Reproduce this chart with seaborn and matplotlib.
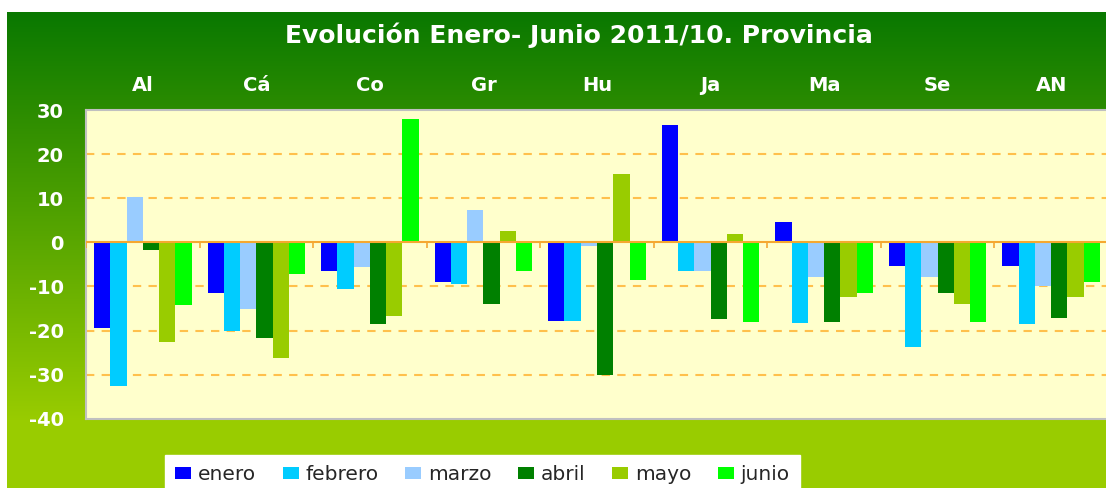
import numpy as np
import pandas as pd
import matplotlib
matplotlib.use("Agg")
import matplotlib.pyplot as plt
import seaborn as sns
from matplotlib.colors import to_rgb

# ---- data ----
provincias = ["Al", "Cá", "Co", "Gr", "Hu", "Ja", "Ma", "Se", "AN"]
meses = ["enero", "febrero", "marzo", "abril", "mayo", "junio"]
enero   = [-19.5, -11.6,  -6.6,  -8.9, -17.9, 26.6,   4.6,  -5.3,  -5.3]
febrero = [-32.5, -20.2, -10.7,  -9.4, -17.9, -6.4, -18.2, -23.8, -18.6]
marzo   = [ 10.3, -15.2,  -5.7,   7.3,  -0.8, -6.4,  -7.8,  -7.8, -10.0]
abril   = [ -1.7, -21.6, -18.6, -14.1, -30.0, -17.3, -18.0, -11.6, -17.1]
mayo    = [-22.5, -26.3, -16.6,   2.5,  15.6,  1.8, -12.3, -14.1, -12.3]
junio   = [-14.3,  -7.2,  27.9,  -6.6,  -8.5, -18.0, -11.4, -18.0,  -8.9]
yticks = [-40, -30, -20, -10, 0, 10, 20, 30]
titulo = "Evolución Enero- Junio 2011/10. Provincia"

colores = {"enero": "#0000FF", "febrero": "#00CCFF", "marzo": "#99CCFF",
           "abril": "#008000", "mayo": "#99CC00", "junio": "#00FF00"}

series = {"enero": enero, "febrero": febrero, "marzo": marzo,
          "abril": abril, "mayo": mayo, "junio": junio}
df = pd.DataFrame([(p, m, series[m][i]) for m in meses for i, p in enumerate(provincias)],
                  columns=["prov", "mes", "valor"])

sns.set_style("white")
plt.rcParams["font.family"] = ["DejaVu Sans"]
plt.rcParams["axes.unicode_minus"] = False

W, H = 1106, 488
fig = plt.figure(figsize=(W / 100, H / 100), dpi=100)
fig.patch.set_facecolor("white")

# gradient background
bg = fig.add_axes([7 / W, 0, 1 - 7 / W, 1 - 12 / H], zorder=-10)
bg.axis("off")
ys = np.arange(12, H)
frac = np.clip((ys - 12) / (420 - 12), 0, 1)
c0 = np.array(to_rgb("#097800"))
c1 = np.array(to_rgb("#99CC00"))
grad = (c0[None, :] * (1 - frac[:, None]) + c1[None, :] * frac[:, None])[:, None, :]
bg.imshow(grad, aspect="auto", extent=[0, 1, 0, 1])

# plot axes
ax = fig.add_axes([86 / W, (H - 418.7) / H, 1022 / W, (418.7 - 110) / H])
ax.set_facecolor("#FFFFCC")

sns.barplot(data=df, x="prov", y="valor", hue="mes", hue_order=meses, order=provincias,
            palette=colores, width=0.86, gap=0, saturation=1, linewidth=0,
            ax=ax, zorder=2)

handles, labels = ax.get_legend_handles_labels()
if ax.get_legend() is not None:
    ax.get_legend().remove()

ax.set_xlim(-0.5, len(provincias) - 0.5)
ax.set_ylim(-40, 30)
ax.set_yticks(yticks)
ax.set_yticklabels([str(v) for v in yticks])
ax.set_xlabel("")
ax.set_ylabel("")

# grid
for v in yticks:
    if v not in (0, -40, 30):
        ax.axhline(v, color="#FFC04C", lw=1.5, dashes=(4, 3.5), zorder=1)
ax.axhline(0, color="#F5A830", lw=1.5, zorder=3)
ax.vlines(np.arange(-0.5, len(provincias)), -1.4, 0, color="#F5A830", lw=1.2, zorder=3)

# category labels on top
ax.xaxis.tick_top()
ax.tick_params(axis="x", length=0, pad=11, labelsize=14, labelcolor="white")
for t in ax.get_xticklabels():
    t.set_fontweight("bold")
ax.tick_params(axis="y", length=6, width=1.5, color="#C8C8C8", pad=10,
               labelsize=14, labelcolor="white")
for t in ax.get_yticklabels():
    t.set_fontweight("bold")

for s in ["left", "top", "bottom", "right"]:
    ax.spines[s].set_color("#C0C0C0")
    ax.spines[s].set_linewidth(1.5)

fig.text(579 / W, 1 - 35 / H, titulo, color="white", fontsize=18, fontweight="bold",
         ha="center", va="center")

leg = fig.legend(handles, labels, loc="upper left", bbox_to_anchor=(165 / W, 1 - 455 / H),
                 ncol=6, frameon=True, fancybox=False, fontsize=14.5, borderaxespad=0,
                 handlelength=0.8, handleheight=0.6, handletextpad=0.35,
                 columnspacing=1.3, borderpad=0.5)
leg.get_frame().set_facecolor("white")
leg.get_frame().set_edgecolor("white")
leg.get_frame().set_alpha(1)

fig.savefig("out.png", dpi=100)
